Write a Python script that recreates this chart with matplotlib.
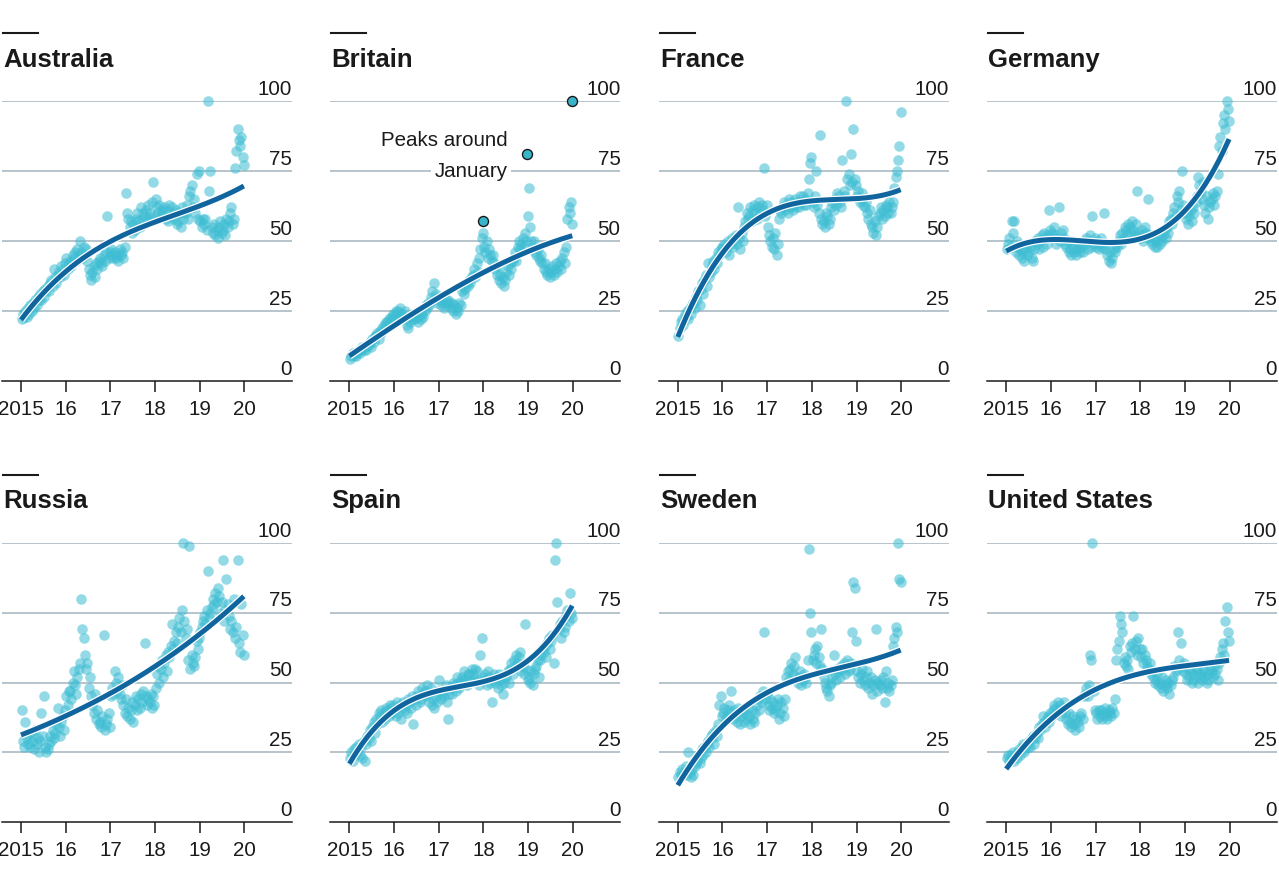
import numpy as np
import matplotlib
matplotlib.use('Agg')
import matplotlib.pyplot as plt
import matplotlib.patheffects as pe
from matplotlib import font_manager
from matplotlib.lines import Line2D

# pick a condensed font if the box has one
names = {f.name for f in font_manager.fontManager.ttflist}
if 'Liberation Sans Narrow' in names:
    plt.rcParams['font.family'] = ['Liberation Sans Narrow', 'DejaVu Sans']
    tick_size, title_size = 17, 20.5
else:
    plt.rcParams['font.family'] = ['Liberation Sans', 'DejaVu Sans']
    tick_size, title_size = 14.8, 18.5

# readings, three per month, Jan 2015 - Dec 2019 (one line per year)
australia = [
    22, 24, 23, 25, 23, 26, 24, 27, 25, 28, 26, 29, 27, 30, 29, 31, 29, 32, 30, 33, 32, 34, 32, 35, 36, 34, 40, 37, 35, 38, 39, 37, 41, 40, 38, 42,
    44, 40, 42, 43, 41, 45, 44, 46, 43, 47, 45, 50, 46, 44, 48, 45, 47, 43, 40, 38, 36, 39, 41, 37, 42, 40, 43, 44, 42, 41, 45, 43, 46, 59, 44, 46,
    47, 45, 44, 46, 44, 45, 43, 47, 45, 46, 44, 48, 67, 60, 58, 55, 57, 53, 56, 54, 58, 60, 57, 55, 62, 58, 60, 59, 61, 57, 63, 60, 58, 64, 71, 59,
    65, 62, 60, 63, 59, 61, 60, 62, 58, 61, 57, 63, 59, 62, 60, 58, 61, 56, 57, 60, 55, 62, 58, 60, 60, 63, 58, 66, 68, 70, 62, 65, 60, 74, 58, 75,
    57, 55, 58, 56, 58, 54, 100, 68, 75, 55, 53, 56, 52, 54, 51, 55, 57, 53, 54, 56, 52, 58, 55, 57, 60, 62, 56, 58, 76, 82, 90, 86, 84, 87, 80, 77,
]
britain = [
    8, 9, 10, 9, 10, 9, 10, 11, 10, 11, 12, 11, 12, 11, 13, 13, 14, 12, 15, 14, 16, 16, 17, 15, 18, 17, 19, 20, 19, 21, 21, 22, 20, 23, 22, 24,
    24, 25, 23, 25, 26, 24, 24, 23, 25, 22, 20, 19, 21, 23, 22, 24, 22, 23, 23, 21, 24, 22, 24, 23, 25, 27, 26, 28, 27, 30, 32, 29, 35, 31, 28, 30,
    29, 27, 30, 28, 26, 29, 27, 29, 28, 26, 28, 25, 27, 24, 26, 25, 28, 27, 32, 34, 31, 33, 35, 34, 36, 35, 37, 38, 40, 37, 42, 39, 44, 47, 51, 53,
    48, 46, 50, 44, 47, 45, 43, 45, 42, 40, 38, 41, 36, 38, 35, 37, 34, 36, 39, 41, 38, 42, 40, 43, 44, 46, 43, 48, 50, 47, 49, 51, 48, 53, 50, 59,
    69, 55, 50, 48, 50, 46, 45, 47, 44, 43, 45, 42, 40, 42, 39, 38, 40, 37, 39, 41, 38, 40, 42, 39, 41, 43, 40, 44, 46, 42, 48, 58, 62, 60, 64, 56,
]
france = [
    16, 19, 21, 22, 20, 24, 23, 25, 22, 26, 24, 27, 28, 26, 30, 29, 32, 27, 33, 35, 31, 36, 38, 34, 42, 37, 39, 41, 43, 40, 44, 42, 46, 45, 47, 48,
    47, 49, 46, 48, 50, 45, 49, 51, 48, 50, 52, 49, 62, 51, 47, 53, 50, 55, 57, 60, 58, 59, 62, 57, 61, 63, 60, 58, 62, 64, 60, 63, 61, 76, 59, 63,
    55, 52, 50, 48, 51, 47, 53, 45, 49, 58, 61, 60, 62, 64, 61, 63, 60, 65, 62, 64, 61, 63, 65, 62, 64, 62, 66, 64, 66, 63, 65, 63, 67, 72, 78, 80,
    64, 62, 66, 75, 63, 60, 88, 58, 56, 57, 55, 60, 59, 56, 58, 62, 64, 61, 65, 63, 67, 66, 64, 62, 79, 68, 66, 100, 72, 74, 70, 81, 71, 90, 72, 70,
    66, 68, 64, 65, 67, 63, 62, 64, 60, 58, 61, 56, 55, 53, 57, 52, 55, 59, 60, 62, 58, 61, 59, 63, 62, 60, 64, 60, 62, 64, 69, 73, 75, 79, 84, 96,
]
germany = [
    47, 49, 51, 48, 57, 53, 57, 46, 50, 48, 45, 47, 44, 46, 43, 47, 45, 49, 46, 48, 44, 43, 47, 50, 49, 51, 47, 50, 52, 48, 53, 51, 49, 52, 61, 54,
    53, 51, 55, 52, 49, 51, 62, 50, 53, 54, 51, 49, 48, 50, 46, 47, 45, 49, 46, 48, 45, 47, 49, 46, 48, 46, 50, 49, 51, 47, 50, 52, 48, 59, 49, 51,
    48, 50, 47, 49, 51, 48, 60, 47, 49, 45, 43, 46, 42, 44, 47, 46, 49, 48, 50, 52, 49, 53, 51, 55, 54, 52, 56, 55, 53, 57, 54, 52, 56, 68, 53, 51,
    52, 54, 50, 55, 53, 51, 65, 52, 50, 49, 51, 48, 50, 48, 52, 49, 51, 50, 52, 54, 51, 55, 53, 57, 58, 56, 60, 62, 59, 66, 64, 68, 61, 75, 63, 60,
    58, 60, 56, 59, 61, 57, 62, 60, 64, 66, 73, 70, 68, 65, 71, 63, 60, 66, 58, 62, 64, 65, 67, 63, 66, 68, 74, 84, 87, 82, 92, 95, 90, 100, 97, 93,
]
russia = [
    40, 29, 27, 36, 30, 28, 32, 27, 29, 31, 26, 33, 28, 30, 25, 29, 39, 31, 45, 27, 25, 26, 28, 31, 29, 33, 30, 32, 35, 41, 34, 31, 36, 38, 33, 40,
    45, 42, 47, 47, 44, 50, 54, 49, 46, 52, 55, 57, 80, 69, 66, 60, 55, 57, 48, 52, 45, 42, 39, 46, 37, 40, 35, 36, 34, 38, 67, 33, 35, 37, 39, 34,
    45, 48, 46, 54, 50, 47, 52, 46, 44, 49, 42, 39, 44, 38, 41, 37, 40, 43, 36, 42, 45, 40, 44, 41, 46, 43, 47, 64, 45, 42, 44, 43, 46, 41, 45, 42,
    48, 53, 56, 50, 55, 58, 52, 57, 60, 54, 61, 59, 63, 71, 62, 65, 68, 64, 70, 73, 68, 76, 100, 72, 66, 69, 58, 99, 55, 60, 57, 56, 59, 65, 62, 66,
    68, 70, 72, 74, 71, 76, 90, 73, 75, 77, 80, 78, 82, 79, 84, 81, 75, 79, 94, 72, 76, 87, 78, 74, 69, 72, 68, 80, 66, 70, 94, 64, 61, 78, 67, 60,
]
spain = [
    23, 25, 22, 26, 24, 27, 25, 28, 24, 27, 23, 29, 22, 28, 31, 30, 33, 29, 34, 36, 32, 37, 35, 39, 38, 40, 36, 39, 37, 41, 40, 38, 42, 41, 39, 42,
    40, 38, 43, 39, 42, 37, 41, 43, 40, 42, 39, 44, 43, 41, 45, 35, 44, 42, 45, 47, 43, 44, 48, 46, 47, 45, 49, 46, 43, 48, 42, 44, 41, 45, 43, 47,
    51, 44, 46, 47, 45, 49, 43, 37, 46, 48, 46, 50, 49, 47, 52, 50, 48, 51, 52, 50, 54, 51, 49, 53, 53, 51, 55, 53, 51, 55, 54, 51, 49, 60, 66, 52,
    51, 53, 49, 54, 52, 50, 43, 51, 53, 50, 52, 48, 53, 51, 49, 46, 50, 52, 52, 54, 50, 55, 57, 53, 58, 56, 60, 57, 59, 61, 54, 56, 53, 71, 55, 51,
    52, 50, 54, 49, 53, 55, 56, 58, 52, 58, 60, 62, 61, 63, 59, 64, 66, 62, 65, 67, 57, 94, 100, 79, 69, 71, 66, 72, 68, 70, 74, 76, 72, 82, 75, 73,
]
sweden = [
    16, 18, 17, 19, 17, 18, 20, 17, 25, 18, 16, 19, 17, 20, 21, 22, 24, 21, 23, 26, 24, 27, 25, 28, 29, 27, 31, 30, 32, 28, 33, 31, 35, 42, 45, 38,
    39, 41, 37, 38, 40, 42, 47, 39, 37, 40, 38, 36, 41, 39, 35, 38, 40, 36, 39, 37, 41, 38, 35, 40, 37, 36, 39, 42, 44, 40, 45, 43, 47, 68, 44, 46,
    42, 40, 44, 41, 43, 39, 40, 42, 44, 37, 39, 43, 41, 38, 44, 52, 54, 51, 55, 57, 53, 56, 59, 52, 50, 52, 54, 49, 51, 53, 52, 50, 58, 98, 75, 68,
    58, 60, 62, 57, 63, 59, 56, 69, 55, 52, 50, 48, 47, 45, 49, 50, 52, 60, 53, 51, 55, 54, 52, 56, 55, 57, 53, 56, 58, 54, 55, 57, 68, 86, 84, 65,
    54, 52, 50, 53, 55, 51, 49, 52, 54, 48, 50, 52, 46, 49, 51, 69, 47, 50, 49, 51, 48, 52, 43, 54, 48, 50, 47, 49, 51, 63, 66, 70, 68, 100, 87, 86,
]
united_states = [
    23, 24, 22, 24, 23, 25, 22, 24, 23, 25, 26, 24, 27, 28, 25, 26, 28, 27, 29, 27, 30, 31, 28, 30, 32, 30, 34, 33, 35, 38, 36, 34, 37, 38, 36, 39,
    38, 40, 42, 41, 39, 43, 40, 42, 38, 41, 43, 39, 37, 35, 39, 36, 34, 38, 35, 33, 37, 36, 34, 38, 39, 37, 45, 46, 48, 45, 49, 60, 58, 100, 47, 40,
    39, 37, 40, 38, 40, 37, 39, 41, 38, 37, 40, 39, 38, 41, 39, 44, 58, 62, 65, 74, 71, 68, 57, 59, 56, 58, 55, 63, 61, 64, 74, 62, 65, 60, 66, 62,
    59, 62, 57, 60, 58, 56, 55, 57, 53, 54, 52, 50, 51, 53, 49, 50, 48, 52, 47, 49, 51, 48, 50, 46, 49, 51, 52, 56, 54, 55, 68, 58, 64, 56, 54, 57,
    53, 51, 55, 52, 54, 50, 51, 53, 55, 54, 50, 52, 53, 51, 55, 52, 54, 50, 51, 53, 55, 54, 52, 56, 53, 55, 51, 57, 59, 62, 64, 60, 72, 77, 68, 65,
]

countries = ['Australia', 'Britain', 'France', 'Germany',
             'Russia', 'Spain', 'Sweden', 'United States']
series = [australia, britain, france, germany, russia, spain, sweden, united_states]

# the three January peaks marked in Britain
peak_x = [2017.98, 2018.98, 2019.97]
peak_y = [57, 81, 100]

years = [2015, 2016, 2017, 2018, 2019, 2020]
year_labels = ['2015', '16', '17', '18', '19', '20']
grid_vals = [25, 50, 75, 100]

W, H = 1279, 876
fig = plt.figure(figsize=(W / 100, H / 100), dpi=100)

dot_col = '#3dbdd3'
line_col = '#11659e'
grid_col = '#b7c4cc'
ink = '#1a1a1a'

for i, (name, vals) in enumerate(zip(countries, series)):
    r, c = divmod(i, 4)
    left = 2 + 328.4 * c
    base_px = 381 + 441 * r
    top_px = 101 + 442 * r
    ax = fig.add_axes([left / W, 1 - base_px / H, 290 / W, (base_px - top_px) / H])
    ax.set_facecolor('none')

    y = np.array(vals, dtype=float)
    x = 2015 + (np.arange(len(y)) + 0.5) / 36

    for g in grid_vals:
        ax.axhline(g, color=grid_col, lw=1.4, zorder=0)
    for g in [0] + grid_vals:
        ax.annotate(str(g), xy=(1, g), xycoords=ax.get_yaxis_transform(),
                    xytext=(0, 4.6), textcoords='offset points',
                    ha='right', va='baseline', fontsize=tick_size, color=ink)

    ax.scatter(x, y, s=58, color=dot_col, alpha=0.55, linewidths=0,
               zorder=2, clip_on=False)

    fx, fy = x, y
    if name == 'Britain':
        fx = np.concatenate([x, peak_x])
        fy = np.concatenate([y, peak_y])
    coef = np.polyfit(fx, fy, 3)
    t = np.linspace(2015.0, x.max(), 200)
    ax.plot(t, np.polyval(coef, t), color=line_col, lw=3.6,
            solid_capstyle='butt', zorder=4, clip_on=False,
            path_effects=[pe.Stroke(linewidth=5.4, foreground='white'), pe.Normal()])

    if name == 'Britain':
        ax.scatter(peak_x, peak_y, s=52, color='#38b5cb', edgecolors=ink,
                   linewidths=1.0, zorder=5, clip_on=False)
        ax.text(2018.535, 83.9, 'Peaks around', ha='right', va='baseline',
                fontsize=tick_size, color=ink, zorder=6)
        ax.text(2018.535, 72.9, 'January', ha='right', va='baseline',
                fontsize=tick_size, color=ink, zorder=6,
                bbox=dict(facecolor='white', edgecolor='none', pad=2.5))

    ax.set_xlim(2014.575, 2021.063)
    ax.set_ylim(0, 100)
    ax.set_xticks(years)
    ax.set_xticklabels(year_labels)
    ax.set_yticks([])
    for s in ['top', 'left', 'right']:
        ax.spines[s].set_visible(False)
    ax.spines['bottom'].set_color(ink)
    ax.spines['bottom'].set_linewidth(1.1)
    ax.tick_params(axis='x', length=8, width=1.1, color=ink, pad=6,
                   labelsize=tick_size, labelcolor=ink)

    # title with the short rule above it
    tx = 3 + 328.4 * c
    fig.text(tx / W, 1 - (67 + 441 * r) / H, name, fontsize=title_size,
             fontweight='bold', color=ink, va='baseline', ha='left')
    fig.add_artist(Line2D([tx / W, (tx + 35) / W],
                          [1 - (33 + 442 * r) / H] * 2,
                          transform=fig.transFigure, color=ink, lw=1.5))

fig.savefig('out.png', dpi=100)
